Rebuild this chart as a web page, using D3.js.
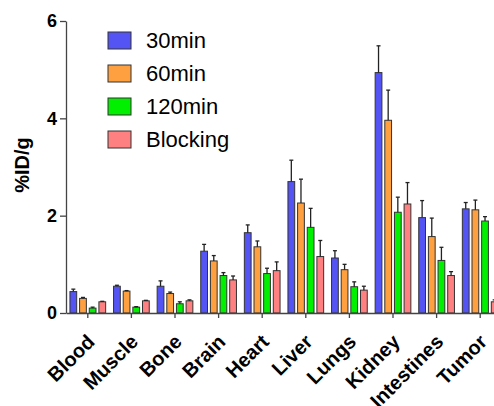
<!DOCTYPE html>
<meta charset="utf-8">
<svg width="494" height="406"></svg>
<style>
    body { margin: 0; background: #fff; }
    svg { display: block; font-family: "Liberation Sans", Arial, sans-serif; }
</style>
<script src="https://cdn.jsdelivr.net/npm/d3@7"></script>
<script>
    // organs along the x axis
    var organs = ["Blood", "Muscle", "Bone", "Brain", "Heart", "Liver", "Lungs", "Kidney", "Intestines", "Tumor"];
    var groups = ["30min", "60min", "120min", "Blocking"];
    var yTicks = [0, 2, 4, 6];

    // mean %ID/g per group, same order as organs
    var min30    = [0.44, 0.55, 0.55, 1.27, 1.65, 2.70, 1.13, 4.94, 1.96, 2.14];
    var min60    = [0.30, 0.45, 0.40, 1.07, 1.36, 2.26, 0.89, 3.96, 1.57, 2.12];
    var min120   = [0.10, 0.12, 0.19, 0.77, 0.81, 1.76, 0.54, 2.07, 1.08, 1.89];
    var blocking = [0.23, 0.25, 0.25, 0.68, 0.87, 1.16, 0.47, 2.24, 0.77, 0.23];

    // upper error (sd), same order
    var sd30     = [0.05, 0.02, 0.11, 0.14, 0.16, 0.44, 0.15, 0.55, 0.35, 0.13];
    var sd60     = [0.02, 0.01, 0.03, 0.11, 0.12, 0.49, 0.11, 0.62, 0.38, 0.20];
    var sd120    = [0.02, 0.01, 0.04, 0.06, 0.11, 0.39, 0.10, 0.31, 0.27, 0.09];
    var sdBlock  = [0.01, 0.01, 0.02, 0.08, 0.18, 0.33, 0.08, 0.44, 0.08, 0.04];

    var colors = ["#5454f4", "#ffa040", "#00f000", "#ff8080"];

    var means = [min30, min60, min120, blocking];
    var errs = [sd30, sd60, sd120, sdBlock];

    var svg = d3.select("svg"),
        margin = {left: 66, top: 21, bottom: 93},
        plotH = +svg.attr("height") - margin.top - margin.bottom;

    var x = d3.scaleBand()
        .domain(organs)
        .range([margin.left, margin.left + 436]);

    var xs = d3.scaleBand()
        .domain(groups)
        .range([-19.3, 19.3])
        .paddingInner(0.3)
        .paddingOuter(0.15);

    var y = d3.scaleLinear()
        .domain([0, 6])
        .range([margin.top + plotH, margin.top]);

    var data = [];
    organs.forEach(function (o, i) {
        groups.forEach(function (g, j) {
            data.push({organ: o, group: g, k: j, v: means[j][i], e: errs[j][i]});
        });
    });

    var bars = svg.append("g");

    bars.selectAll("rect")
        .data(data)
        .enter().append("rect")
        .attr("x", d => x(d.organ) + x.bandwidth() / 2 + xs(d.group))
        .attr("y", d => y(d.v))
        .attr("width", xs.bandwidth())
        .attr("height", d => y(0) - y(d.v))
        .attr("fill", d => colors[d.k])
        .attr("stroke", "#333")
        .attr("stroke-width", 1);

    // error bars, upper only
    var eb = bars.selectAll("g.err")
        .data(data)
        .enter().append("g")
        .attr("class", "err")
        .attr("stroke", "#222")
        .attr("stroke-width", 1.3);

    eb.append("line")
        .attr("x1", d => x(d.organ) + x.bandwidth() / 2 + xs(d.group) + xs.bandwidth() / 2)
        .attr("x2", d => x(d.organ) + x.bandwidth() / 2 + xs(d.group) + xs.bandwidth() / 2)
        .attr("y1", d => y(d.v))
        .attr("y2", d => y(d.v + d.e));

    eb.append("line")
        .attr("x1", d => x(d.organ) + x.bandwidth() / 2 + xs(d.group) + xs.bandwidth() / 2 - 2)
        .attr("x2", d => x(d.organ) + x.bandwidth() / 2 + xs(d.group) + xs.bandwidth() / 2 + 2)
        .attr("y1", d => y(d.v + d.e))
        .attr("y2", d => y(d.v + d.e));

    // y axis
    var yAxis = svg.append("g")
        .attr("transform", "translate(" + margin.left + ",0)")
        .call(d3.axisLeft(y).tickValues(yTicks).tickFormat(d3.format("d")).tickSize(6).tickSizeOuter(0));

    yAxis.select(".domain").attr("stroke", "#444").attr("stroke-width", 1.3);
    yAxis.selectAll(".tick line").attr("stroke", "#444").attr("stroke-width", 1.3);
    yAxis.selectAll(".tick text")
        .attr("x", -9)
        .attr("fill", "#000")
        .style("font-size", "18px")
        .style("font-weight", "bold")
        .style("font-family", "Liberation Sans, Arial, sans-serif");

    // x axis
    var xAxis = svg.append("g")
        .attr("transform", "translate(0," + y(0) + ")")
        .call(d3.axisBottom(x).tickSize(5).tickSizeOuter(0));

    xAxis.select(".domain").attr("stroke", "#444").attr("stroke-width", 1.3);
    xAxis.selectAll(".tick line").attr("stroke", "#444").attr("stroke-width", 1.3);
    xAxis.selectAll(".tick text")
        .attr("y", 0)
        .attr("dy", 0)
        .attr("text-anchor", "end")
        .attr("transform", "translate(8,30) rotate(-45)")
        .attr("fill", "#000")
        .style("font-size", "20px")
        .style("font-weight", "bold")
        .style("font-family", "Liberation Sans, Arial, sans-serif");

    // y title
    svg.append("text")
        .attr("transform", "translate(29," + (margin.top + plotH / 2 - 2) + ") rotate(-90)")
        .attr("text-anchor", "middle")
        .style("font-size", "20px")
        .style("font-weight", "bold")
        .text("%ID/g");

    // legend
    var legend = svg.append("g").attr("transform", "translate(108,32)");
    var li = legend.selectAll("g")
        .data(groups)
        .enter().append("g")
        .attr("transform", (d, i) => "translate(0," + i * 33 + ")");

    li.append("rect")
        .attr("width", 23)
        .attr("height", 17)
        .attr("fill", (d, i) => colors[i])
        .attr("stroke", "#333")
        .attr("stroke-width", 1);

    li.append("text")
        .attr("x", 38)
        .attr("y", 16)
        .style("font-size", "22px")
        .text(d => d);
</script>
